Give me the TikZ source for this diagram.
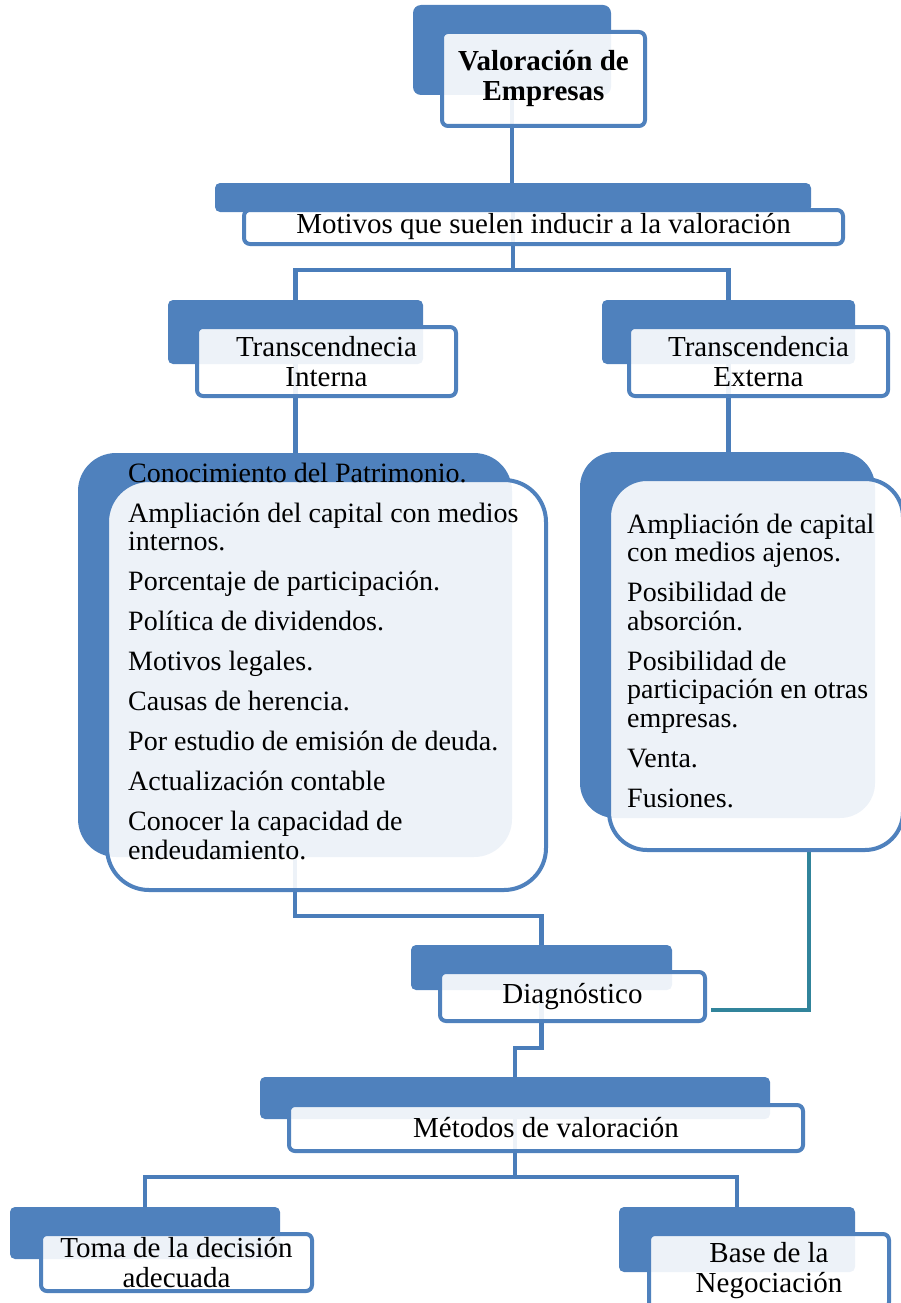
\documentclass[tikz,border=0pt]{standalone}
\usepackage{fontspec}
\setmainfont{Liberation Serif}
\usetikzlibrary{calc}
\definecolor{bblue}{RGB}{79,129,189}
\definecolor{cblue}{RGB}{74,125,186}
\definecolor{tealc}{RGB}{49,132,155}
\pgfdeclarelayer{bg}
\pgfsetlayers{bg,main}
\begin{document}
\begin{tikzpicture}[x=1pt,y=-1pt,
  backbox/.style={fill=bblue, draw=none, rounded corners=5pt, inner sep=0pt},
  frontbox/.style={draw=bblue, line width=4pt, fill=white, fill opacity=0.9, text opacity=1,
    rounded corners=6pt, inner sep=0pt, align=center, font=\fontsize{29}{30}\selectfont},
  conn/.style={draw=cblue, line width=4.5pt},
  tealconn/.style={draw=tealc, line width=4pt},
  listtext/.style={anchor=base west, inner sep=0pt, font=\fontsize{28}{28.5}\selectfont}]
\useasboundingbox (0,0) rectangle (900,1303);

% back boxes
\node[backbox, rounded corners=8pt, minimum width=198pt, minimum height=90pt] (topB) at (512,50) {};
\node[backbox, minimum width=596pt, minimum height=29pt] (motB) at (513,197.5) {};
\node[backbox, minimum width=255pt, minimum height=64pt] (intB) at (295.5,332) {};
\node[backbox, minimum width=253pt, minimum height=64pt] (extB) at (728.5,332) {};
\node[backbox, rounded corners=38pt, minimum width=434pt, minimum height=404pt] (leftB) at (295,655) {};
\node[backbox, rounded corners=35pt, minimum width=295pt, minimum height=366pt] (rightB) at (727.5,635) {};
\node[backbox, minimum width=261pt, minimum height=45pt] (diagB) at (541.5,967.5) {};
\node[backbox, minimum width=510pt, minimum height=42pt] (metB) at (515,1098) {};
\node[backbox, minimum width=270pt, minimum height=52pt] (tomB) at (145,1233) {};
\node[backbox, minimum width=236pt, minimum height=65pt] (baseB) at (737,1239.5) {};

% front boxes
\node[frontbox, minimum width=203pt, minimum height=94pt] (topF) at (543.5,79) {\textbf{Valoración de}\\\textbf{Empresas}};
\node[frontbox, minimum width=599pt, minimum height=34pt] (motF) at (543.5,227) {Motivos que suelen inducir a la valoración};
\node[frontbox, minimum width=259pt, minimum height=69pt] (intF) at (326.5,361.5) {Transcendnecia\\Interna};
\node[frontbox, minimum width=259pt, minimum height=69pt] (extF) at (758.5,361.5) {Transcendencia\\Externa};
\node[frontbox, rounded corners=42pt, minimum width=439pt, minimum height=410pt] (leftF) at (326.5,685) {};
\node[frontbox, rounded corners=38pt, minimum width=294pt, minimum height=371pt] (rightF) at (756,664.5) {};
\node[frontbox, minimum width=265pt, minimum height=49pt] (diagF) at (572.5,996.5) {Diagnóstico};
\node[frontbox, minimum width=514pt, minimum height=46pt] (metF) at (546,1128) {Métodos de valoración};
\node[frontbox, minimum width=271pt, minimum height=57pt] (tomF) at (176.5,1262.5) {Toma de la decisión\\adecuada};
\node[frontbox, minimum width=240pt, minimum height=74pt] (baseF) at (769,1271) {Base de la\\Negociación};

% list texts
\node[listtext] (leftT) at (128,482) {\parbox[t]{420pt}{\raggedright
Conocimiento del Patrimonio.\\[11.5pt]
Ampliación del capital con medios\\ internos.\\[11.5pt]
Porcentaje de participación.\\[11.5pt]
Política de dividendos.\\[11.5pt]
Motivos legales.\\[11.5pt]
Causas de herencia.\\[11.5pt]
Por estudio de emisión de deuda.\\[11.5pt]
Actualización contable\\[11.5pt]
Conocer la capacidad de\\ endeudamiento.}};
\node[listtext] (rightT) at (627,533) {\parbox[t]{270pt}{\raggedright
Ampliación de capital\\ con medios ajenos.\\[11.5pt]
Posibilidad de\\ absorción.\\[11.5pt]
Posibilidad de\\ participación en otras\\ empresas.\\[11.5pt]
Venta.\\[11.5pt]
Fusiones.}};

% connectors
\coordinate (j1) at (513,270);
\coordinate (j3) at (541,916);
\coordinate (j4) at (514,1048);
\coordinate (j5) at (515,1177);
\coordinate (t1) at (809,852);
\coordinate (t2) at (711,1010);
\begin{pgfonlayer}{bg}
\draw[conn] (topB.south) -- (topB.south |- motB.north);
\draw[conn] (motB.south) -- (motB.south |- j1);
\draw[conn] (intB.north) |- (j1) -| (extB.north);
\draw[conn] (intB.south) -- (intB.south |- leftB.north);
\draw[conn] (extB.south) -- (extB.south |- rightB.north);
\draw[conn] (leftB.south) |- (diagB.north |- j3) -- (diagB.north);
\draw[conn] (diagB.south) |- (metB.north |- j4) -- (metB.north);
\draw[conn] (metB.south) -- (metB.south |- j5);
\draw[conn] (tomB.north) |- (baseB.north |- j5) -- (baseB.north);
\draw[tealconn] (t1) |- (t2);
\end{pgfonlayer}
\end{tikzpicture}
\end{document}
